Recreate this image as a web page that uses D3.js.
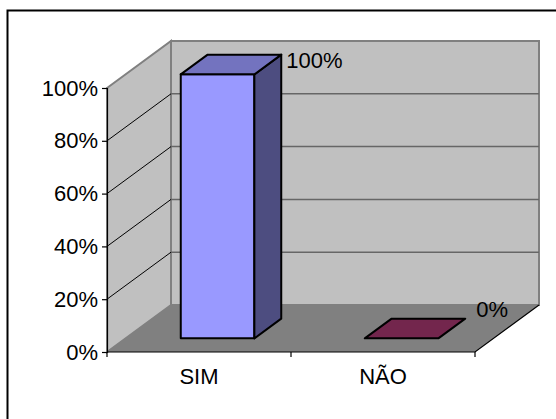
<!DOCTYPE html>
<html>
<head>
<meta charset="utf-8">
<script src="https://cdn.jsdelivr.net/npm/d3@7"></script>
<style>
  html, body { margin: 0; padding: 0; background: #fff; }
  svg { display: block; }
  text { font-family: "Liberation Sans", Arial, sans-serif; }
</style>
</head>
<body>
<svg id="chart" width="556" height="419"></svg>
<script>
// Survey answers and their share
const categories = ["SIM", "NÃO"];
const values = [1.0, 0.0];
const tickValues = [0, 0.2, 0.4, 0.6, 0.8, 1.0];
const frontColors = ["#9999ff", "#993366"];

const svg = d3.select("#chart");
const fontSize = 22;

// Front plane of the 3D box and depth offset
const plotLeft = 107, plotRight = 475, plotBottom = 352, plotTop = 88;
const DX = 64, DY = 47;
const zFront = 0.29, zBack = 0.71;

const x = d3.scaleBand().domain(categories).range([plotLeft, plotRight])
  .paddingInner(0.6).paddingOuter(0.3);
const y = d3.scaleLinear().domain([0, 1]).range([plotBottom, plotTop]);
const fmt = d3.format(".0%");

// project a point (screen x on the front plane, value, depth 0..1)
const P = (px, v, z) => [px + z * DX, y(v) - z * DY];
const poly = pts => "M" + pts.map(p => p.join(",")).join("L") + "Z";

// outer frame
svg.append("rect").attr("x", 7.5).attr("y", 10.5)
  .attr("width", 600).attr("height", 500)
  .attr("fill", "none").attr("stroke", "#000").attr("stroke-width", 2);

// back wall
const bw0 = P(plotLeft, 1, 1), bw1 = P(plotRight, 0, 1);
svg.append("rect")
  .attr("x", bw0[0]).attr("y", bw0[1])
  .attr("width", bw1[0] - bw0[0]).attr("height", bw1[1] - bw0[1])
  .attr("fill", "#c0c0c0").attr("stroke", "#808080").attr("stroke-width", 2);

// side wall
svg.append("path")
  .attr("d", poly([P(plotLeft, 1, 0), P(plotLeft, 1, 1), P(plotLeft, 0, 1), P(plotLeft, 0, 0)]))
  .attr("fill", "#c0c0c0").attr("stroke", "#808080").attr("stroke-width", 2);

// floor
svg.append("path")
  .attr("d", poly([P(plotLeft, 0, 0), P(plotRight, 0, 0), P(plotRight, 0, 1), P(plotLeft, 0, 1)]))
  .attr("fill", "#808080");
svg.append("path")
  .attr("d", "M" + [P(plotLeft, 0, 0), P(plotRight, 0, 0), P(plotRight, 0, 1)].map(p => p.join(",")).join("L"))
  .attr("fill", "none").attr("stroke", "#000").attr("stroke-width", 1.2);

// gridlines on back wall and side wall
const grid = tickValues.filter(t => t > 0 && t < 1);
svg.append("g").selectAll("line").data(grid).join("line")
  .attr("x1", P(plotLeft, 0, 1)[0]).attr("x2", P(plotRight, 0, 1)[0])
  .attr("y1", d => P(plotLeft, d, 1)[1]).attr("y2", d => P(plotLeft, d, 1)[1])
  .attr("stroke", "#666").attr("stroke-width", 1.5);
svg.append("g").selectAll("line").data(grid).join("line")
  .attr("x1", d => P(plotLeft, d, 0)[0]).attr("y1", d => P(plotLeft, d, 0)[1])
  .attr("x2", d => P(plotLeft, d, 1)[0]).attr("y2", d => P(plotLeft, d, 1)[1])
  .attr("stroke", "#000").attr("stroke-width", 1);

// value axis
const yAxis = svg.append("g").attr("transform", `translate(${plotLeft},0)`)
  .call(d3.axisLeft(y).tickValues(tickValues).tickFormat(fmt).tickSize(5).tickPadding(4));
yAxis.select(".domain").attr("stroke", "#000").attr("stroke-width", 1.2);
yAxis.selectAll(".tick line").attr("stroke", "#000").attr("stroke-width", 1.2);
yAxis.selectAll("text").attr("font-size", fontSize).attr("fill", "#000")
  .attr("font-family", "'Liberation Sans', Arial, sans-serif");

// category axis: ticks between categories, labels centred
const bounds = [plotLeft].concat(categories.map(c => x(c) + x.bandwidth() / 2 + x.step() / 2));
svg.append("g").selectAll("line").data(bounds).join("line")
  .attr("x1", d => d).attr("x2", d => d)
  .attr("y1", plotBottom).attr("y2", plotBottom + 5)
  .attr("stroke", "#000").attr("stroke-width", 1.2);
svg.append("g").selectAll("text").data(categories).join("text")
  .attr("x", d => x(d) + x.bandwidth() / 2)
  .attr("y", 384)
  .attr("text-anchor", "middle")
  .attr("font-size", fontSize)
  .text(d => d);

// bars
const bars = svg.append("g");
categories.forEach((c, i) => {
  const v = values[i];
  const x0 = x(c), x1 = x(c) + x.bandwidth();
  const base = d3.rgb(frontColors[i]);
  const topCol = d3.rgb(base.r * 0.75, base.g * 0.75, base.b * 0.75);
  const sideCol = d3.rgb(base.r * 0.5, base.g * 0.5, base.b * 0.5);
  const g = bars.append("g").attr("stroke", "#000").attr("stroke-width", 2)
    .attr("stroke-linejoin", "round");
  if (v > 0) {
    g.append("path").attr("fill", base.toString())
      .attr("d", poly([P(x0, v, zFront), P(x1, v, zFront), P(x1, 0, zFront), P(x0, 0, zFront)]));
    g.append("path").attr("fill", sideCol.toString())
      .attr("d", poly([P(x1, v, zFront), P(x1, v, zBack), P(x1, 0, zBack), P(x1, 0, zFront)]));
  }
  g.append("path").attr("fill", topCol.toString())
    .attr("d", poly([P(x0, v, zFront), P(x1, v, zFront), P(x1, v, zBack), P(x0, v, zBack)]));

  // data label near the back-right top corner
  const corner = P(x1, v, zBack);
  svg.append("text")
    .attr("x", corner[0] + (v > 0 ? 5 : 11))
    .attr("y", corner[1] + (v > 0 ? 13 : -2))
    .attr("font-size", fontSize)
    .text(fmt(v));
});
</script>
</body>
</html>
